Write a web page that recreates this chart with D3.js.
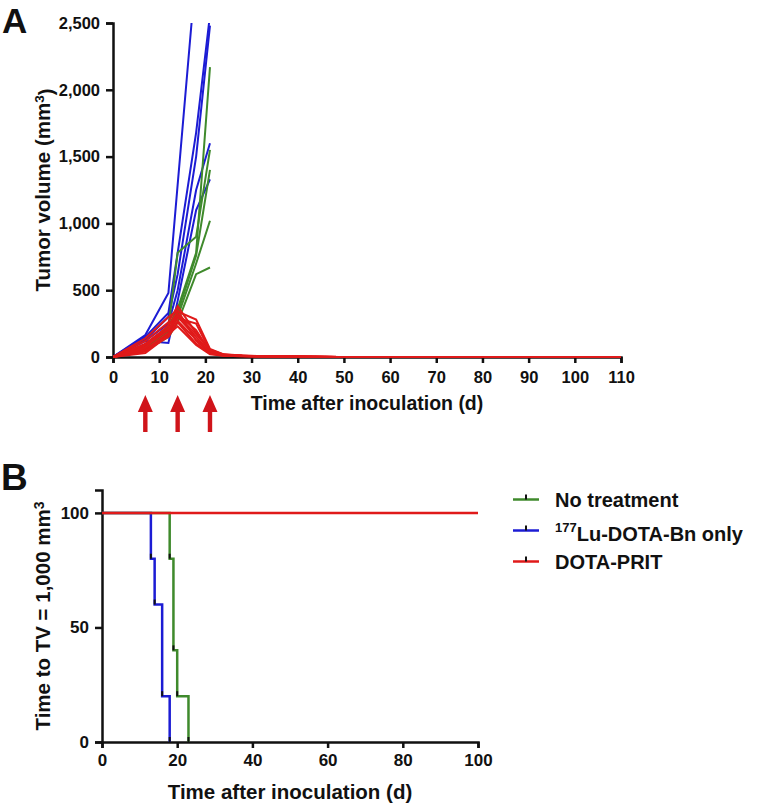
<!DOCTYPE html>
<html><head><meta charset="utf-8">
<script src="https://cdn.jsdelivr.net/npm/d3@7"></script>
<style>
html,body{margin:0;padding:0;background:#fff;}
text{font-family:"Liberation Sans",Arial,Helvetica,sans-serif;font-weight:bold;fill:#111;}
</style></head>
<body>
<svg id="chart" width="757" height="806"></svg>
<script>
// ---------- Panel A data ----------
const earlyDays = [0, 7, 12, 14, 18, 21];
const blueMice = [
  [0, 165, 480, 1290, 2900, null],
  [0, 150, 330, 780, 1680, 2560],
  [0, 130, 300, 620, 1500, 2480],
  [0, 120, 250, 500, 1250, 1600],
  [0, 120, 105, 420, 1100, 1330]
];
const greenMice = [
  [0, 90, 230, 360, 780, 2170],
  [0, 80, 220, 780, 900, 1550],
  [0, 70, 190, 330, 760, 1400],
  [0, 60, 170, 300, 700, 1020],
  [0, 50, 150, 260, 620, 670]
];
const redDays = [0, 7, 12, 14, 18, 21, 24, 28, 31, 35, 38, 42, 49, 56, 63, 70, 77, 84, 91, 98, 105, 110];
const redMice = [
  [0, 120, 260, 380, 180, 50, 18, 10, 7, 5, 4, 2, 0, 0, 0, 0, 0, 0, 0, 0, 0, 0],
  [0, 100, 230, 340, 280, 60, 20, 12, 8, 6, 5, 3, 0, 0, 0, 0, 0, 0, 0, 0, 0, 0],
  [0, 80, 200, 320, 200, 40, 15, 9, 6, 5, 3, 2, 0, 0, 0, 0, 0, 0, 0, 0, 0, 0],
  [0, 60, 180, 300, 150, 35, 12, 8, 5, 4, 3, 1, 0, 0, 0, 0, 0, 0, 0, 0, 0, 0],
  [0, 140, 300, 350, 120, 30, 14, 8, 6, 4, 3, 2, 0, 0, 0, 0, 0, 0, 0, 0, 0, 0],
  [0, 50, 150, 260, 100, 25, 10, 6, 4, 3, 2, 1, 0, 0, 0, 0, 0, 0, 0, 0, 0, 0],
  [0, 40, 170, 230, 90, 20, 9, 5, 4, 3, 2, 1, 0, 0, 0, 0, 0, 0, 0, 0, 0, 0],
  [0, 90, 210, 290, 250, 45, 16, 10, 7, 5, 4, 2, 0, 0, 0, 0, 0, 0, 0, 0, 0, 0],
  [0, 70, 240, 310, 170, 55, 17, 9, 6, 5, 3, 2, 0, 0, 0, 0, 0, 0, 0, 0, 0, 0],
  [0, 30, 160, 270, 130, 40, 13, 7, 5, 4, 3, 1, 0, 0, 0, 0, 0, 0, 0, 0, 0, 0]
];
const arrowDays = [7, 14, 21];
const aXTicks = [0, 10, 20, 30, 40, 50, 60, 70, 80, 90, 100, 110];
const aYTicks = [0, 500, 1000, 1500, 2000, 2500];

// ---------- Panel B data ----------
const groupNames = ["No treatment", "Lu-DOTA-Bn only", "DOTA-PRIT"];
const greenTimes = [0, 18, 19, 20, 23];
const greenPct = [100, 80, 40, 20, 0];
const blueTimes = [0, 13, 14, 16, 18];
const bluePct = [100, 80, 60, 20, 0];
const redTimes = [0, 100];
const redPct = [100, 100];
const bXTicks = [0, 20, 40, 60, 80, 100];
const bYTicks = [0, 50, 100];

const colors = {green: "#3f8a2c", blue: "#1c1cd4", red: "#e01a1a"};

const svg = d3.select("#chart");

// ================= Panel A =================
const xA = d3.scaleLinear().domain([0, 110]).range([113, 621]);
const yA = d3.scaleLinear().domain([0, 2500]).range([357, 23]);

svg.append("defs").append("clipPath").attr("id", "clipA")
  .append("rect").attr("x", xA(0)).attr("y", yA(2500)).attr("width", xA(110) - xA(0) + 2).attr("height", yA(0) - yA(2500) + 2);

const gA = svg.append("g").attr("clip-path", "url(#clipA)");
const lineEarly = d3.line().defined(d => d[1] != null).x(d => xA(d[0])).y(d => yA(d[1]));

blueMice.forEach(m => {
  gA.append("path").datum(earlyDays.map((d, i) => [d, m[i]]))
    .attr("d", lineEarly).attr("fill", "none").attr("stroke", colors.blue).attr("stroke-width", 2);
});
greenMice.forEach(m => {
  gA.append("path").datum(earlyDays.map((d, i) => [d, m[i]]))
    .attr("d", lineEarly).attr("fill", "none").attr("stroke", colors.green).attr("stroke-width", 2);
});

// axes A
const axAx = svg.append("g").attr("transform", `translate(0,${yA(0)})`)
  .call(d3.axisBottom(xA).tickValues(aXTicks).tickSize(6).tickPadding(8).tickFormat(d3.format("d")));
const axAy = svg.append("g").attr("transform", `translate(${xA(0)},0)`)
  .call(d3.axisLeft(yA).tickValues(aYTicks).tickSize(7).tickPadding(6).tickFormat(d3.format(",")));
[axAx, axAy].forEach(a => {
  a.select(".domain").attr("stroke", "#111").attr("stroke-width", 2.5);
  a.selectAll(".tick line").attr("stroke", "#111").attr("stroke-width", 2.5);
  a.selectAll("text").style("font-size", "16.5px").attr("fill", "#111");
});

redMice.forEach(m => {
  gA.append("path").datum(redDays.map((d, i) => [d, m[i]]))
    .attr("d", lineEarly).attr("fill", "none").attr("stroke", colors.red).attr("stroke-width", 2);
});
gA.raise();

// arrows
arrowDays.forEach(d => {
  const cx = xA(d);
  const top = 395, headH = 17, headW = 7.5, bottom = 432, shaft = 2.2;
  svg.append("path")
    .attr("d", `M${cx},${top} L${cx + headW},${top + headH} L${cx + shaft},${top + headH} L${cx + shaft},${bottom} L${cx - shaft},${bottom} L${cx - shaft},${top + headH} L${cx - headW},${top + headH} Z`)
    .attr("fill", "#d0141a");
});

// titles A
svg.append("text").attr("x", 2).attr("y", 33).style("font-size", "35px").text("A");
svg.append("text").attr("x", xA(55)).attr("y", 410).attr("text-anchor", "middle").style("font-size", "19.5px")
  .text("Time after inoculation (d)");
const ytA = svg.append("text").attr("transform", `translate(50,${(yA(0) + yA(2500)) / 2}) rotate(-90)`)
  .attr("text-anchor", "middle").style("font-size", "20.5px");
ytA.append("tspan").text("Tumor volume (mm");
ytA.append("tspan").attr("dy", "-0.45em").style("font-size", "13.5px").text("3");
ytA.append("tspan").attr("dy", "0.45em").text(")");

// ================= Panel B =================
const xB = d3.scaleLinear().domain([0, 100]).range([102, 478]);
const yB = d3.scaleLinear().domain([0, 110]).range([742, 490]);

const stepLine = d3.line().curve(d3.curveStepAfter).x(d => xB(d[0])).y(d => yB(d[1]));

const axBx = svg.append("g").attr("transform", `translate(0,${yB(0)})`)
  .call(d3.axisBottom(xB).tickValues(bXTicks).tickSize(6).tickPadding(6).tickFormat(d3.format("d")));
const axBy = svg.append("g").attr("transform", `translate(${xB(0)},0)`)
  .call(d3.axisLeft(yB).tickValues(bYTicks).tickSize(7).tickPadding(6));
[axBx, axBy].forEach(a => {
  a.select(".domain").attr("stroke", "#111").attr("stroke-width", 2.5);
  a.selectAll(".tick line").attr("stroke", "#111").attr("stroke-width", 2.5);
  a.selectAll("text").style("font-size", "17px").attr("fill", "#111");
});

function drawSurv(times, pct, color) {
  const pts = times.map((t, i) => [t, pct[i]]);
  svg.append("path").datum(pts).attr("d", stepLine)
    .attr("fill", "none").attr("stroke", color).attr("stroke-width", 2.5);
  pts.slice(1).forEach(p => {
    if (p[0] >= 100) return;
    svg.append("line").attr("x1", xB(p[0])).attr("x2", xB(p[0]))
      .attr("y1", yB(p[1])).attr("y2", yB(p[1]) - 5)
      .attr("stroke", "#111").attr("stroke-width", 2);
  });
}
drawSurv(blueTimes, bluePct, colors.blue);
drawSurv(greenTimes, greenPct, colors.green);
drawSurv(redTimes, redPct, colors.red);

svg.append("text").attr("x", 1).attr("y", 490).style("font-size", "37px").text("B");
svg.append("text").attr("x", xB(50)).attr("y", 799).attr("text-anchor", "middle").style("font-size", "20.5px")
  .text("Time after inoculation (d)");
const ytB = svg.append("text").attr("transform", `translate(50,${(yB(0) + yB(110)) / 2}) rotate(-90)`)
  .attr("text-anchor", "middle").style("font-size", "20.5px");
ytB.append("tspan").text("Time to TV = 1,000 mm");
ytB.append("tspan").attr("dy", "-0.45em").style("font-size", "14px").text("3");

// legend
const legColors = [colors.green, colors.blue, colors.red];
groupNames.forEach((name, i) => {
  const ly = 499.5 + i * 31;
  svg.append("line").attr("x1", 513).attr("x2", 539).attr("y1", ly).attr("y2", ly)
    .attr("stroke", legColors[i]).attr("stroke-width", 2.5);
  svg.append("line").attr("x1", 526).attr("x2", 526).attr("y1", ly).attr("y2", ly - 5)
    .attr("stroke", "#111").attr("stroke-width", 2);
  const t = svg.append("text").attr("x", 555).attr("y", ly + 7).style("font-size", "20px");
  if (i === 1) {
    t.append("tspan").attr("dy", "-0.45em").style("font-size", "13px").text("177");
    t.append("tspan").attr("dy", "0.45em").text(name);
  } else {
    t.text(name);
  }
});
</script>
</body></html>
